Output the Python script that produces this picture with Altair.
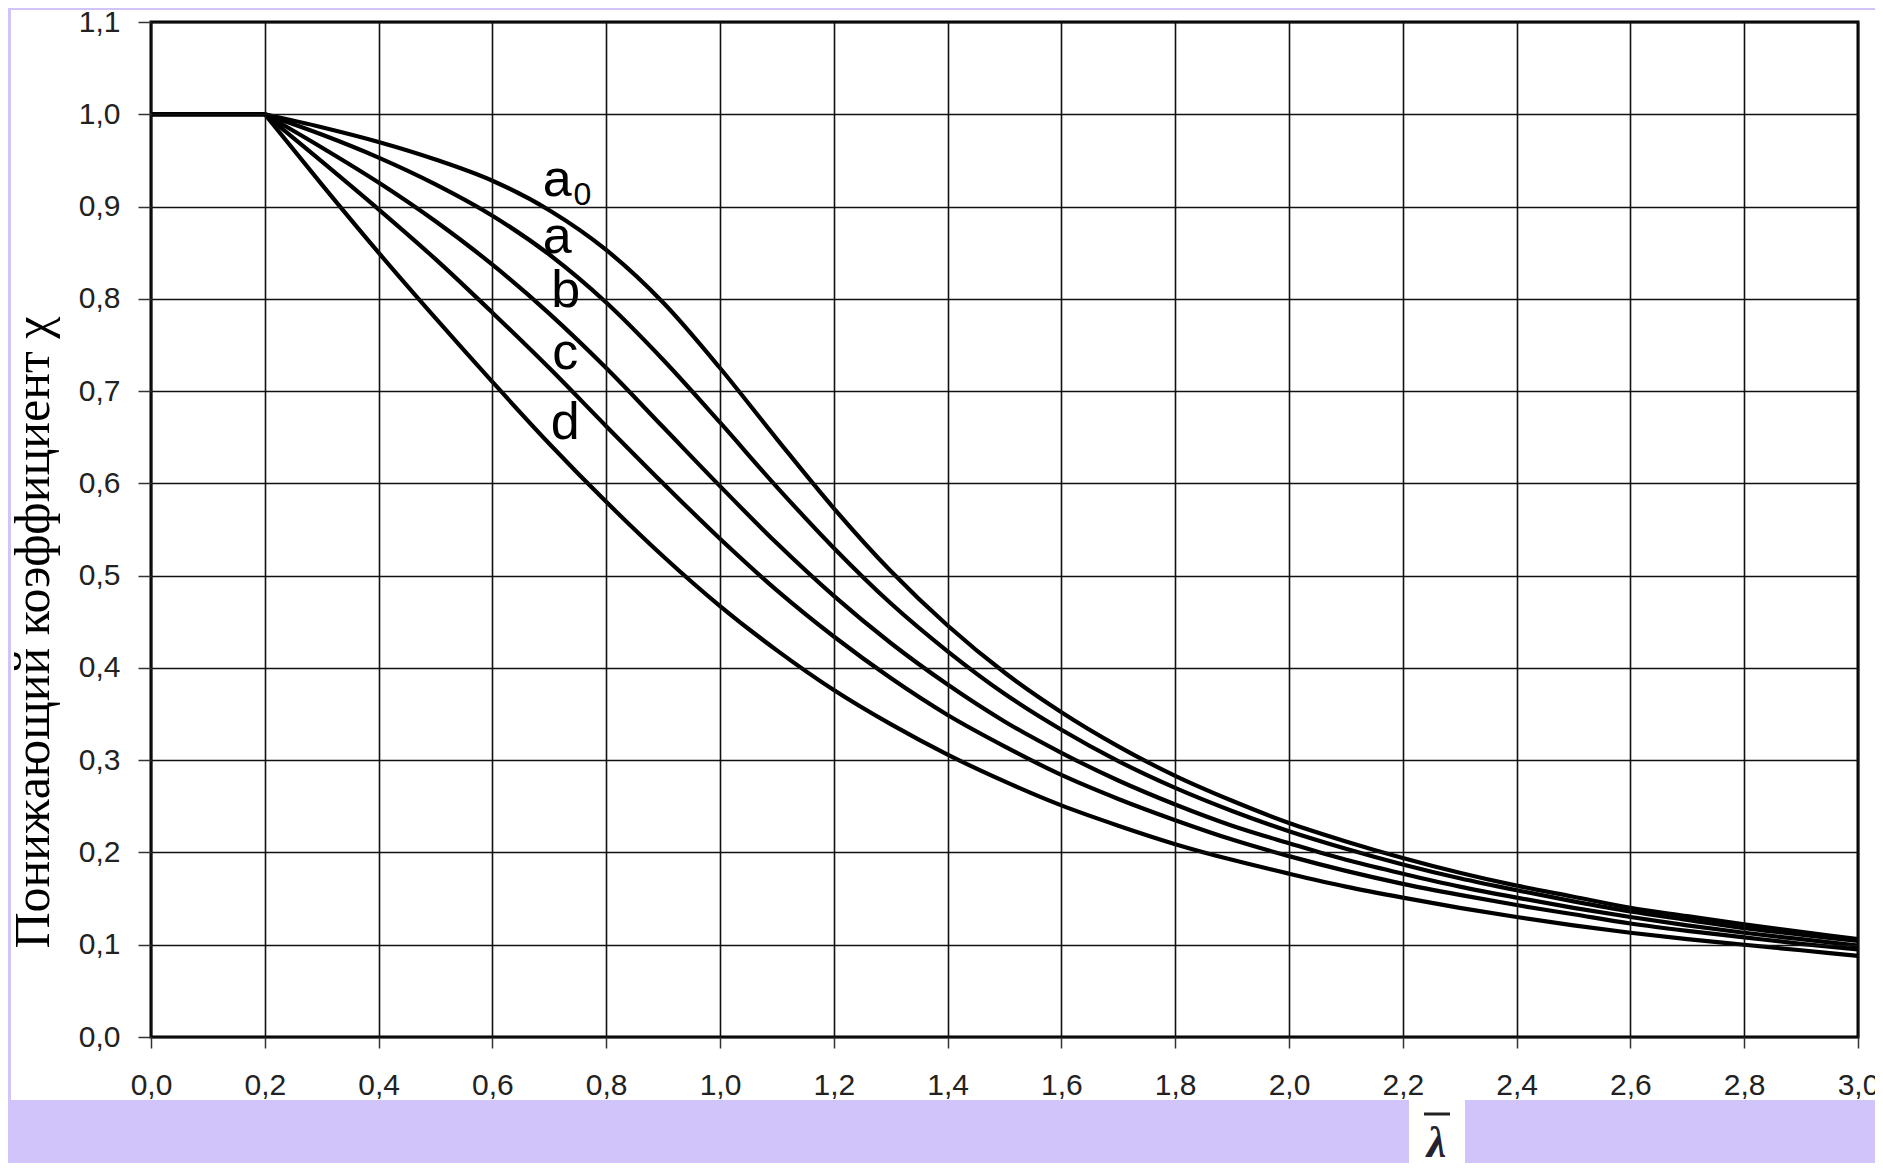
import altair as alt
import pandas as pd

# slenderness values
lam = [0.0, 0.1, 0.2, 0.3, 0.4, 0.5, 0.6, 0.7, 0.8, 0.9, 1.0,
       1.1, 1.2, 1.3, 1.4, 1.5, 1.6, 1.7, 1.8, 1.9, 2.0,
       2.1, 2.2, 2.3, 2.4, 2.5, 2.6, 2.7, 2.8, 2.9, 3.0]

chi_a0 = [1.0, 1.0, 1.0, 0.986, 0.970, 0.951, 0.928, 0.896, 0.853, 0.796, 0.725,
          0.648, 0.573, 0.505, 0.446, 0.395, 0.352, 0.315, 0.283, 0.256, 0.232,
          0.212, 0.194, 0.178, 0.164, 0.152, 0.140, 0.131, 0.122, 0.114, 0.106]
chi_a = [1.0, 1.0, 1.0, 0.978, 0.953, 0.924, 0.890, 0.848, 0.796, 0.734, 0.666,
         0.596, 0.530, 0.470, 0.418, 0.372, 0.333, 0.299, 0.270, 0.245, 0.223,
         0.204, 0.187, 0.172, 0.159, 0.147, 0.136, 0.127, 0.118, 0.111, 0.104]
chi_b = [1.0, 1.0, 1.0, 0.964, 0.926, 0.884, 0.837, 0.784, 0.725, 0.661, 0.597,
         0.535, 0.478, 0.427, 0.382, 0.342, 0.308, 0.278, 0.252, 0.229, 0.210,
         0.192, 0.177, 0.163, 0.151, 0.140, 0.130, 0.121, 0.113, 0.106, 0.099]
chi_c = [1.0, 1.0, 1.0, 0.949, 0.897, 0.843, 0.785, 0.725, 0.662, 0.600, 0.540,
         0.484, 0.434, 0.389, 0.349, 0.315, 0.284, 0.258, 0.235, 0.214, 0.196,
         0.180, 0.166, 0.154, 0.143, 0.133, 0.123, 0.115, 0.108, 0.101, 0.095]
chi_d = [1.0, 1.0, 1.0, 0.924, 0.850, 0.779, 0.710, 0.643, 0.580, 0.521, 0.467,
         0.419, 0.376, 0.339, 0.306, 0.277, 0.251, 0.229, 0.209, 0.192, 0.177,
         0.163, 0.151, 0.140, 0.130, 0.121, 0.113, 0.106, 0.100, 0.094, 0.088]

curve_names = ["a0", "a", "b", "c", "d"]
curve_values = [chi_a0, chi_a, chi_b, chi_c, chi_d]
plateau_end = 0.2  # curves are flat (chi = 1) up to this slenderness

# curve labels
label_text = ["a", "a", "b", "c", "d"]
label_x = [0.714, 0.714, 0.729, 0.728, 0.728]
label_y = [0.929, 0.867, 0.808, 0.741, 0.665]
sub_text = ["0"]
sub_x = [0.758]
sub_y = [0.913]

x_ticks = [round(0.2 * i, 1) for i in range(16)]
y_ticks = [round(0.1 * i, 1) for i in range(12)]

rows = []
for name, vals in zip(curve_names, curve_values):
    for xv, yv in zip(lam, vals):
        if xv <= plateau_end:
            rows.append({"curve": name, "seg": name + "_flat", "lam": xv, "chi": yv})
        if xv >= plateau_end:
            rows.append({"curve": name, "seg": name + "_fall", "lam": xv, "chi": yv})
df = pd.DataFrame(rows)

lab_df = pd.DataFrame({"t": label_text, "x": label_x, "y": label_y})
sub_df = pd.DataFrame({"t": sub_text, "x": sub_x, "y": sub_y})
one = pd.DataFrame({"k": [0]})
frame_df = pd.DataFrame({"x0": [0.0], "x1": [3.0], "y0": [0.0], "y1": [1.1]})

W, H = 1707, 1015
xs = alt.Scale(domain=[0, 3.0], nice=False, zero=False)
ys = alt.Scale(domain=[0, 1.1], nice=False, zero=False)
lab_expr = "replace(format(datum.value, '.1f'), '.', ',')"

panel = alt.Chart(one).mark_rect(color="white").encode(
    x=alt.value(-140), x2=alt.value(1727), y=alt.value(-12), y2=alt.value(1078)
)
lam_box = alt.Chart(one).mark_rect(color="white").encode(
    x=alt.value(1258), x2=alt.value(1314), y=alt.value(1078), y2=alt.value(1150)
)
lam_bar = alt.Chart(one).mark_rule(color="#222", strokeWidth=3).encode(
    x=alt.value(1273), x2=alt.value(1299), y=alt.value(1092)
)

curves = alt.Chart(df).mark_line(
    color="black", strokeWidth=4.2, interpolate="monotone"
).encode(
    x=alt.X("lam:Q", scale=xs, axis=alt.Axis(
        values=x_ticks, labelExpr=lab_expr, grid=True, gridColor="#111",
        gridWidth=1.6, gridOpacity=1, domain=False, tickColor="#333",
        tickSize=11, tickWidth=1.5, labelFont="Liberation Sans", labelFontSize=30,
        labelColor="#222", labelFlush=False, labelOverlap=False,
        labelBaseline="middle", labelPadding=37, zindex=1,
        title="λ", titleFont="Liberation Serif", titleFontStyle="italic",
        titleFontWeight="bold", titleFontSize=44, titleColor="#223",
        titleX=1285, titleY=106, titleAlign="center", titleBaseline="middle",
        titleAngle=0)),
    y=alt.Y("chi:Q", scale=ys, axis=alt.Axis(
        values=y_ticks, labelExpr=lab_expr, grid=True, gridColor="#111",
        gridWidth=1.6, gridOpacity=1, domain=False, tickColor="#333",
        tickSize=13, tickWidth=1.5, labelFont="Liberation Sans", labelFontSize=30,
        labelColor="#222", labelOverlap=False, labelPadding=18, zindex=1,
        title="Понижающий коэффициент χ", titleFont="Liberation Serif",
        titleFontWeight="normal", titleFontSize=50, titleColor="black",
        titleX=-118, titleY=610, titleAlign="center", titleBaseline="middle",
        titleAngle=270)),
    detail="seg:N",
)

frame = alt.Chart(frame_df).mark_rect(
    filled=False, stroke="black", strokeWidth=3
).encode(
    x=alt.X("x0:Q", scale=xs), x2="x1:Q",
    y=alt.Y("y0:Q", scale=ys), y2="y1:Q",
)

labels = alt.Chart(lab_df).mark_text(
    font="Liberation Sans", fontSize=52, color="black", align="center", baseline="middle"
).encode(x=alt.X("x:Q", scale=xs), y=alt.Y("y:Q", scale=ys), text="t:N")

subs = alt.Chart(sub_df).mark_text(
    font="Liberation Sans", fontSize=32, color="black", align="center", baseline="middle"
).encode(x=alt.X("x:Q", scale=xs), y=alt.Y("y:Q", scale=ys), text="t:N")

chart = alt.layer(panel, lam_box, lam_bar, curves, frame, labels, subs).properties(
    width=W, height=H,
    autosize=alt.AutoSizeParams(type="none"),
    padding={"left": 143, "top": 14, "right": 17, "bottom": 126},
    background="#D1C4FB",
).configure_view(stroke=None)

chart.save("out.html", embed_options={"renderer": "svg", "actions": False})
